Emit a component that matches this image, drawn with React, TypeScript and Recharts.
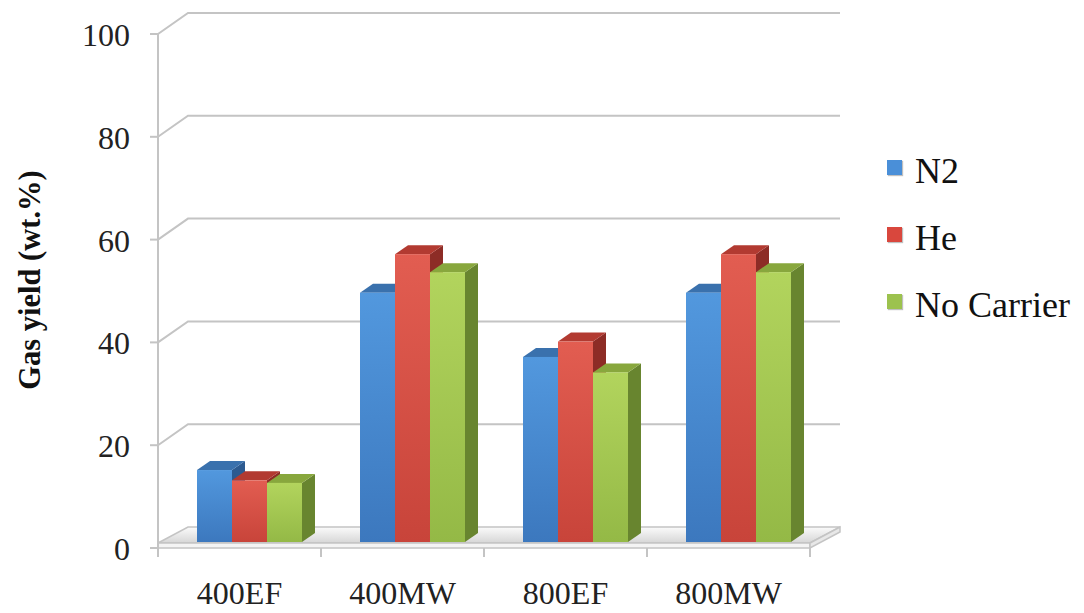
import React from "react";
import { BarChart, Bar, XAxis, YAxis, CartesianGrid } from "recharts";

const categories = ["400EF", "400MW", "800EF", "800MW"];
const n2Values = [14, 48.5, 36, 48.5];
const heValues = [12, 56, 39, 56];
const noCarrierValues = [11.5, 52.5, 33, 52.5];
const yTicks = [0, 20, 40, 60, 80, 100];

const seriesNames = ["N2", "He", "No Carrier"];

const data = categories.map((name, i) => ({
  name,
  n2: n2Values[i],
  he: heValues[i],
  noCarrier: noCarrierValues[i],
}));

const CHART_W = 1076;
const CHART_H = 605;
const MARGIN = { top: 26, right: 274, bottom: 25, left: 0 };
const Y_AXIS_W = 150;
const X_AXIS_H = 40;
const PLOT_LEFT = MARGIN.left + Y_AXIS_W;
const PLOT_RIGHT = CHART_W - MARGIN.right;
const PLOT_BOTTOM = CHART_H - MARGIN.bottom - X_AXIS_H;
const BAND = (PLOT_RIGHT - PLOT_LEFT) / categories.length;

// depth of the back wall (3d look)
const WALL_DX = 30;
const WALL_DY = -21;
// bars sit in the middle of the floor
const BAR_SX = 10;
const BAR_SY = -6;
const BAR_DX = 13;
const BAR_DY = -9;

const GRID = "#c4c4c4";
const FONT = "'Liberation Serif', 'Times New Roman', serif";

const palette = {
  n2: { id: "gBlue", top: "#5298de", bottom: "#3c78be", cap: "#3a71ad", side: "#2c5a90", key: "#4a8fd8" },
  he: { id: "gRed", top: "#e25d51", bottom: "#c8443a", cap: "#b23a31", side: "#8d2c26", key: "#d9473d" },
  noCarrier: { id: "gGreen", top: "#b2d45d", bottom: "#94b946", cap: "#88a73d", side: "#68852f", key: "#9cc24e" },
};

function make3dBar(p: typeof palette.n2) {
  return (props: any) => {
    const { x, y, width, height } = props;
    if (height == null || height <= 0) return <g />;
    const x0 = x + BAR_SX;
    const y0 = y + BAR_SY;
    const x1 = x0 + width;
    const y1 = y0 + height;
    return (
      <g>
        <polygon
          points={`${x1},${y0} ${x1 + BAR_DX},${y0 + BAR_DY} ${x1 + BAR_DX},${y1 + BAR_DY} ${x1},${y1}`}
          fill={p.side}
        />
        <polygon
          points={`${x0},${y0} ${x1},${y0} ${x1 + BAR_DX},${y0 + BAR_DY} ${x0 + BAR_DX},${y0 + BAR_DY}`}
          fill={p.cap}
        />
        <rect x={x0} y={y0} width={width} height={height} fill={`url(#${p.id})`} />
      </g>
    );
  };
}

function gridLine(props: any) {
  const { x1, y1, x2, key } = props;
  const isFloor = Math.abs(y1 - PLOT_BOTTOM) < 1;
  const line = (
    <path
      key={key}
      d={`M${x1},${y1} L${x1 + WALL_DX},${y1 + WALL_DY} L${x2 + WALL_DX},${y1 + WALL_DY}`}
      fill="none"
      stroke={GRID}
      strokeWidth={2}
    />
  );
  if (!isFloor) return line;
  const fy = y1 - 5;
  return (
    <g key={key}>
      <polygon
        points={`${x1},${fy} ${x2},${fy} ${x2 + WALL_DX},${y1 + WALL_DY} ${x1 + WALL_DX},${y1 + WALL_DY}`}
        fill="url(#gFloor)"
        stroke={GRID}
        strokeWidth={1.5}
      />
      <polygon
        points={`${x1},${fy} ${x2},${fy} ${x2},${y1} ${x1},${y1}`}
        fill="#f4f4f4"
        stroke={GRID}
        strokeWidth={1.5}
      />
      <polygon
        points={`${x2},${fy} ${x2 + WALL_DX},${y1 + WALL_DY} ${x2 + WALL_DX},${y1 + WALL_DY + 5} ${x2},${y1}`}
        fill="#e8e8e8"
        stroke={GRID}
        strokeWidth={1.5}
      />
      <line x1={PLOT_LEFT} y1={y1} x2={PLOT_LEFT} y2={y1 + 9} stroke={GRID} strokeWidth={2} />
    </g>
  );
}

const XTick = (props: any) => {
  const { x, y, payload, index } = props;
  return (
    <g>
      <line x1={x - BAND / 2} y1={y} x2={x - BAND / 2} y2={y + 9} stroke={GRID} strokeWidth={2} />
      {index === categories.length - 1 && (
        <line x1={x + BAND / 2} y1={y} x2={x + BAND / 2} y2={y + 9} stroke={GRID} strokeWidth={2} />
      )}
      <text x={x} y={y + 56} textAnchor="middle" fontFamily={FONT} fontSize={32} fill="#222">
        {payload.value}
      </text>
    </g>
  );
};

const YTick = (props: any) => {
  const { x, y, payload } = props;
  return (
    <text x={x} y={y} dy={12} textAnchor="end" fontFamily={FONT} fontSize={32} fill="#222">
      {payload.value}
    </text>
  );
};

const seriesKeys: (keyof typeof palette)[] = ["n2", "he", "noCarrier"];

export default function App() {
  return (
    <div style={{ position: "relative", width: CHART_W, height: CHART_H }}>
      <BarChart width={CHART_W} height={CHART_H} data={data} margin={MARGIN} barGap={0} barSize={35}>
        <defs>
          {seriesKeys.map((k) => (
            <linearGradient key={k} id={palette[k].id} x1="0" y1="0" x2="0" y2="1">
              <stop offset="0%" stopColor={palette[k].top} />
              <stop offset="100%" stopColor={palette[k].bottom} />
            </linearGradient>
          ))}
          <linearGradient id="gFloor" x1="0" y1="1" x2="0" y2="0">
            <stop offset="0%" stopColor="#d6d6d6" />
            <stop offset="100%" stopColor="#fbfbfb" />
          </linearGradient>
        </defs>
        <CartesianGrid vertical={false} horizontal={gridLine} />
        <XAxis
          dataKey="name"
          height={X_AXIS_H}
          axisLine={false}
          tickLine={false}
          tickSize={0}
          tickMargin={0}
          tick={<XTick />}
          interval={0}
        />
        <YAxis
          width={Y_AXIS_W}
          domain={[0, 100]}
          ticks={yTicks}
          interval={0}
          axisLine={{ stroke: GRID, strokeWidth: 2 }}
          tickLine={{ stroke: GRID, strokeWidth: 2 }}
          tickSize={8}
          tickMargin={20}
          tick={<YTick />}
          label={{
            content: () => (
              <text
                transform="translate(32,272) rotate(-90)"
                textAnchor="middle"
                fontFamily={FONT}
                fontSize={30.5}
                fontWeight="bold"
                fill="#111"
              >
                Gas yield (wt.%)
              </text>
            ),
          }}
        />
        {seriesKeys.map((k, i) => (
          <Bar
            key={k}
            dataKey={k}
            name={seriesNames[i]}
            fill={palette[k].key}
            shape={make3dBar(palette[k])}
            isAnimationActive={false}
          />
        ))}
      </BarChart>
      <div style={{ position: "absolute", left: 879, top: 129, fontFamily: FONT, fontSize: 36, color: "#111" }}>
        {seriesKeys.map((k, i) => (
          <div key={k} style={{ height: 67, display: "flex", alignItems: "center", lineHeight: 1 }}>
            <span
              style={{
                display: "inline-block",
                width: 15,
                height: 15,
                marginRight: 13,
                marginTop: -6,
                background: palette[k].key,
                boxShadow: "1px 1px 1px rgba(0,0,0,0.25)",
              }}
            />
            <span>{seriesNames[i]}</span>
          </div>
        ))}
      </div>
    </div>
  );
}
